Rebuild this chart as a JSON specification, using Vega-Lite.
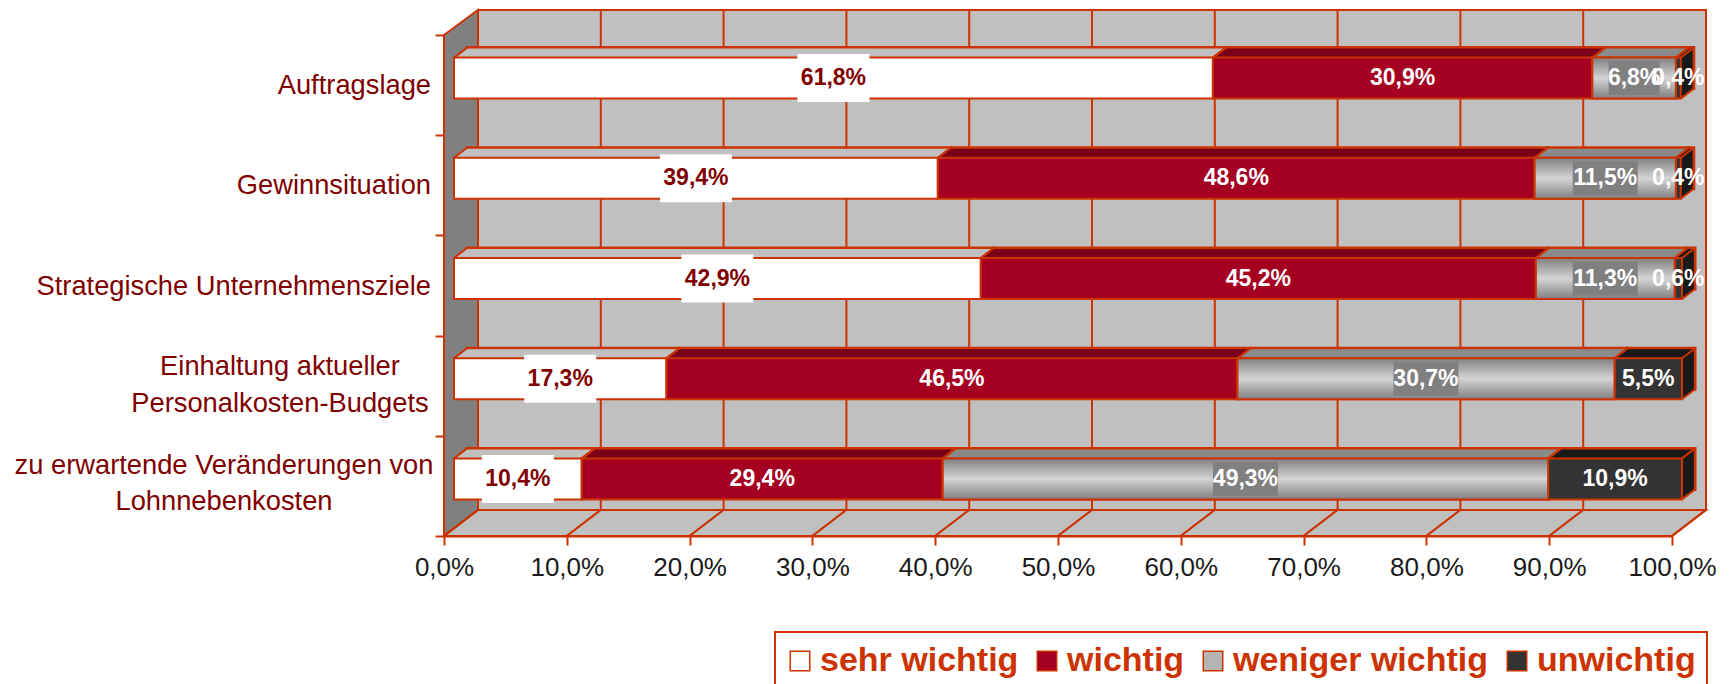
{"$schema":"https://vega.github.io/schema/vega-lite/v6.json","width":1228,"height":501,"autosize":{"type":"none"},"padding":{"left":444,"top":35,"right":58,"bottom":148},"background":"white",
"datasets":{"rows":[
{"cat":"Auftragslage","series":"sehr wichtig","idx":0,"value":61.8,"label":"61,8%"},{"cat":"Auftragslage","series":"wichtig","idx":1,"value":30.9,"label":"30,9%"},{"cat":"Auftragslage","series":"weniger wichtig","idx":2,"value":6.8,"label":"6,8%"},{"cat":"Auftragslage","series":"unwichtig","idx":3,"value":0.4,"label":"0,4%"},
{"cat":"Gewinnsituation","series":"sehr wichtig","idx":0,"value":39.4,"label":"39,4%"},{"cat":"Gewinnsituation","series":"wichtig","idx":1,"value":48.6,"label":"48,6%"},{"cat":"Gewinnsituation","series":"weniger wichtig","idx":2,"value":11.5,"label":"11,5%"},{"cat":"Gewinnsituation","series":"unwichtig","idx":3,"value":0.4,"label":"0,4%"},
{"cat":"Strategische Unternehmensziele","series":"sehr wichtig","idx":0,"value":42.9,"label":"42,9%"},{"cat":"Strategische Unternehmensziele","series":"wichtig","idx":1,"value":45.2,"label":"45,2%"},{"cat":"Strategische Unternehmensziele","series":"weniger wichtig","idx":2,"value":11.3,"label":"11,3%"},{"cat":"Strategische Unternehmensziele","series":"unwichtig","idx":3,"value":0.6,"label":"0,6%"},
{"cat":"Einhaltung aktueller Personalkosten-Budgets","series":"sehr wichtig","idx":0,"value":17.3,"label":"17,3%"},{"cat":"Einhaltung aktueller Personalkosten-Budgets","series":"wichtig","idx":1,"value":46.5,"label":"46,5%"},{"cat":"Einhaltung aktueller Personalkosten-Budgets","series":"weniger wichtig","idx":2,"value":30.7,"label":"30,7%"},{"cat":"Einhaltung aktueller Personalkosten-Budgets","series":"unwichtig","idx":3,"value":5.5,"label":"5,5%"},
{"cat":"zu erwartende Veränderungen von Lohnnebenkosten","series":"sehr wichtig","idx":0,"value":10.4,"label":"10,4%"},{"cat":"zu erwartende Veränderungen von Lohnnebenkosten","series":"wichtig","idx":1,"value":29.4,"label":"29,4%"},{"cat":"zu erwartende Veränderungen von Lohnnebenkosten","series":"weniger wichtig","idx":2,"value":49.3,"label":"49,3%"},{"cat":"zu erwartende Veränderungen von Lohnnebenkosten","series":"unwichtig","idx":3,"value":10.9,"label":"10,9%"}],
"ticks":[{"t":0},{"t":10},{"t":20},{"t":30},{"t":40},{"t":50},{"t":60},{"t":70},{"t":80},{"t":90},{"t":100}],
"one":[{"a":1}]},
"layer":[
{"data":{"name":"one"},"mark":{"type":"point","filled":true,"opacity":1,"size":4,"fill":"#c0c0c0","stroke":"#cc3300","strokeWidth":2,"shape":"M34,-275.5L1262,-275.5L1262,224.5L34,224.5Z"},
"encoding":{"x":{"datum":0,"type":"quantitative","title":null,"scale":{"domain":[0,100]},"axis":{"title":null,"values":[0,10,20,30,40,50,60,70,80,90,100],"grid":false,"labelExpr":"replace(format(datum.value,'.1f'),'.',',')+'%'","labelFont":"Liberation Sans","labelFontSize":26,"labelColor":"#1a1a1a","labelPadding":9,"tickColor":"#cc3300","tickWidth":2,"tickSize":9,"domainColor":"#cc3300","domainWidth":2,"labelOverlap":false,"labelFlush":false}},
"y":{"datum":"Strategische Unternehmensziele","type":"nominal","title":null,"scale":{"domain":["Auftragslage","Gewinnsituation","Strategische Unternehmensziele","Einhaltung aktueller Personalkosten-Budgets","zu erwartende Veränderungen von Lohnnebenkosten"],"paddingInner":0,"paddingOuter":0},"axis":{"title":null,"labels":false,"grid":false,"tickBand":"extent","tickColor":"#cc3300","tickWidth":2,"tickSize":9,"domainColor":"#cc3300","domainWidth":2}}}},
{"data":{"name":"one"},"mark":{"type":"point","filled":true,"opacity":1,"size":4,"fill":"#808080","stroke":"#cc3300","strokeWidth":2,"shape":"M0,-250.5L34,-275.5L34,224.5L0,250.5Z"},
"encoding":{"x":{"datum":0,"type":"quantitative","title":null},"y":{"datum":"Strategische Unternehmensziele","type":"nominal","title":null,"sort":null}}},
{"data":{"name":"one"},"mark":{"type":"point","filled":true,"opacity":1,"size":4,"fill":"#c0c0c0","stroke":"#cc3300","strokeWidth":2,"shape":"M0,250.5L34,224.5L1262,224.5L1228,250.5Z"},
"encoding":{"x":{"datum":0,"type":"quantitative","title":null},"y":{"datum":"Strategische Unternehmensziele","type":"nominal","title":null,"sort":null}}},
{"data":{"name":"one"},"mark":{"type":"point","filled":true,"opacity":1,"size":4,"fill":"#ffffff","stroke":"#cc3300","strokeWidth":2,"shape":"M331,146L1263,146L1263,214L331,214Z","clip":false},
"encoding":{"x":{"datum":0,"type":"quantitative","title":null},"y":{"datum":"zu erwartende Veränderungen von Lohnnebenkosten","type":"nominal","title":null,"sort":null}}},
{"data":{"name":"ticks"},"mark":{"type":"rule","color":"#cc3300","strokeWidth":2,"xOffset":34,"x2Offset":34,"yOffset":-75,"y2Offset":24},"encoding":{"x":{"field":"t","type":"quantitative","title":null},"x2":{"field":"t"},"y":{"datum":"Auftragslage","type":"nominal","title":null,"sort":null},"y2":{"datum":"zu erwartende Veränderungen von Lohnnebenkosten"}}},
{"data":{"name":"ticks"},"mark":{"type":"rule","color":"#cc3300","strokeWidth":2,"yOffset":50,"y2Offset":24,"x2Offset":34},"encoding":{"x":{"field":"t","type":"quantitative","title":null},"x2":{"field":"t"},"y":{"datum":"zu erwartende Veränderungen von Lohnnebenkosten","type":"nominal","title":null,"sort":null},"y2":{"datum":"zu erwartende Veränderungen von Lohnnebenkosten"}}},
{"data":{"name":"rows"},"transform":[{"stack":"value","groupby":["cat"],"sort":[{"field":"idx"}],"as":["x0","x1"]}],
"encoding":{"x":{"field":"x0","type":"quantitative","title":null},"x2":{"field":"x1"},"y":{"field":"cat","type":"nominal","title":null,"sort":null},
"fill":{"field":"series","type":"nominal","legend":null,"scale":{"domain":["sehr wichtig","wichtig","weniger wichtig","unwichtig"],"range":["#c0c0c0","#7a0018","#8a8a8a","#1a1a1a"]}}},
"layer":[
{"mark":{"type":"bar","size":41,"stroke":"#cc3300","strokeWidth":3,"xOffset":23,"x2Offset":23,"yOffset":-17}},
{"mark":{"type":"bar","size":41,"xOffset":21.7,"x2Offset":21.7,"yOffset":-16}},
{"mark":{"type":"bar","size":41,"xOffset":20.4,"x2Offset":20.4,"yOffset":-15}},
{"mark":{"type":"bar","size":41,"xOffset":19.1,"x2Offset":19.1,"yOffset":-14}},
{"mark":{"type":"bar","size":41,"xOffset":17.8,"x2Offset":17.8,"yOffset":-13}},
{"mark":{"type":"bar","size":41,"xOffset":16.5,"x2Offset":16.5,"yOffset":-12}},
{"mark":{"type":"bar","size":41,"xOffset":15.2,"x2Offset":15.2,"yOffset":-11}},
{"mark":{"type":"bar","size":41,"xOffset":13.9,"x2Offset":13.9,"yOffset":-10}},
{"mark":{"type":"bar","size":41,"xOffset":12.6,"x2Offset":12.6,"yOffset":-9}},
{"mark":{"type":"bar","size":41,"xOffset":11.3,"x2Offset":11.3,"yOffset":-8}}
]},
{"data":{"name":"rows"},"transform":[{"stack":"value","groupby":["cat"],"sort":[{"field":"idx"}],"as":["x0","x1"]}],
"mark":{"type":"bar","size":41,"stroke":"#cc3300","strokeWidth":2,"xOffset":10,"x2Offset":10,"yOffset":-7},
"encoding":{"x":{"field":"x0","type":"quantitative","title":null},"x2":{"field":"x1"},"y":{"field":"cat","type":"nominal","title":null,"sort":null},
"fill":{"field":"series","type":"nominal","sort":null,"scale":{"domain":["sehr wichtig","wichtig","weniger wichtig","unwichtig"],"range":["#ffffff","#a50021","#b4b4b4","#333333"]},
"legend":{"title":null,"orient":"none","legendX":335,"legendY":605,"direction":"horizontal","columns":4,"symbolType":"square","symbolSize":380,"labelFont":"Liberation Sans","labelFontSize":34,"labelFontWeight":"bold","labelColor":"#cc3300","labelLimit":400,"labelOffset":3,"columnPadding":11,"padding":4,
"encode":{"symbols":{"update":{"stroke":{"value":"#cc3300"},"strokeWidth":{"value":2},"opacity":{"value":1},"fill":[{"test":"datum.value==='sehr wichtig'","value":"#ffffff"},{"test":"datum.value==='wichtig'","value":"#a50021"},{"test":"datum.value==='weniger wichtig'","value":"#b4b4b4"},{"value":"#333333"}]}}}}}}},
{"data":{"name":"rows"},"transform":[{"stack":"value","groupby":["cat"],"sort":[{"field":"idx"}],"as":["x0","x1"]},{"filter":"datum.idx==2"}],
"mark":{"type":"bar","size":41,"stroke":"#cc3300","strokeWidth":2,"xOffset":10,"x2Offset":10,"yOffset":-7,"fill":{"gradient":"linear","x1":0,"y1":0,"x2":0,"y2":1,"stops":[{"offset":0,"color":"#808080"},{"offset":0.5,"color":"#d4d4d4"},{"offset":1,"color":"#808080"}]}},
"encoding":{"x":{"field":"x0","type":"quantitative","title":null},"x2":{"field":"x1"},"y":{"field":"cat","type":"nominal","title":null,"sort":null}}},
{"data":{"name":"rows"},"transform":[{"stack":"value","groupby":["cat"],"sort":[{"field":"idx"}],"as":["x0","x1"]},{"fold":["x0","x1"],"as":["edge","pos"]}],
"layer":[
{"mark":{"type":"rule","color":"#cc3300","strokeWidth":2,"xOffset":10,"x2Offset":23,"yOffset":-27.5,"y2Offset":-37.5},
"encoding":{"x":{"field":"pos","type":"quantitative","title":null},"x2":{"field":"pos"},"y":{"field":"cat","type":"nominal","title":null,"sort":null},"y2":{"field":"cat"}}},
{"transform":[{"filter":"datum.idx==3 && datum.edge=='x1'"}],"mark":{"type":"rule","color":"#cc3300","strokeWidth":2,"xOffset":10,"x2Offset":23,"yOffset":13.5,"y2Offset":3.5},
"encoding":{"x":{"field":"pos","type":"quantitative","title":null},"x2":{"field":"pos"},"y":{"field":"cat","type":"nominal","title":null,"sort":null},"y2":{"field":"cat"}}}
]},
{"data":{"name":"rows"},"transform":[{"stack":"value","groupby":["cat"],"sort":[{"field":"idx"}],"as":["x0","x1"]},{"fold":["x0","x1"],"as":["edge","pos"]},{"aggregate":[{"op":"mean","field":"pos","as":"mid"}],"groupby":["cat","series","label","idx"]}],
"encoding":{"x":{"field":"mid","type":"quantitative","title":null},"y":{"field":"cat","type":"nominal","title":null,"sort":null}},
"layer":[
{"transform":[{"filter":"datum.idx==0"}],"mark":{"type":"tick","color":"#ffffff","opacity":1,"size":48,"thickness":72,"xOffset":10,"yOffset":-7}},
{"transform":[{"filter":"datum.idx==2 && datum.label!='6,8%'"}],"mark":{"type":"tick","color":"#808080","opacity":1,"size":34,"thickness":65,"xOffset":10,"yOffset":-7}},
{"transform":[{"filter":"datum.label=='6,8%'"}],"mark":{"type":"tick","color":"#808080","opacity":1,"size":34,"thickness":51,"xOffset":10,"yOffset":-7}},
{"mark":{"type":"text","font":"Liberation Sans","fontSize":23,"fontWeight":"bold","xOffset":10,"yOffset":-7},
"encoding":{"text":{"field":"label"},"fill":{"condition":{"test":"datum.idx==0","value":"#800000"},"value":"#ffffff"}}}
]},
{"data":{"values":[{"cat":"Auftragslage","name":"Auftragslage"},{"cat":"Gewinnsituation","name":"Gewinnsituation"},{"cat":"Strategische Unternehmensziele","name":"Strategische Unternehmensziele"}]},
"mark":{"type":"text","font":"Liberation Sans","fontSize":27.3,"color":"#800000","align":"right","xOffset":-13,"yOffset":1},
"encoding":{"x":{"datum":0,"type":"quantitative","title":null},"y":{"field":"cat","type":"nominal","title":null,"sort":null},"text":{"field":"name"}}},
{"data":{"values":[{"cat":"Einhaltung aktueller Personalkosten-Budgets","name":["Einhaltung aktueller","Personalkosten-Budgets"]}]},
"mark":{"type":"text","font":"Liberation Sans","fontSize":27.3,"color":"#800000","align":"center","xOffset":-164,"yOffset":-19,"lineHeight":37},
"encoding":{"x":{"datum":0,"type":"quantitative","title":null},"y":{"field":"cat","type":"nominal","title":null,"sort":null},"text":{"field":"name"}}},
{"data":{"values":[{"cat":"zu erwartende Veränderungen von Lohnnebenkosten","name":["zu erwartende Veränderungen von","Lohnnebenkosten"]}]},
"mark":{"type":"text","font":"Liberation Sans","fontSize":27.3,"color":"#800000","align":"center","xOffset":-220,"yOffset":-20,"lineHeight":36},
"encoding":{"x":{"datum":0,"type":"quantitative","title":null},"y":{"field":"cat","type":"nominal","title":null,"sort":null},"text":{"field":"name"}}}
],
"resolve":{"scale":{"fill":"independent"}},
"config":{"view":{"stroke":null}}}
